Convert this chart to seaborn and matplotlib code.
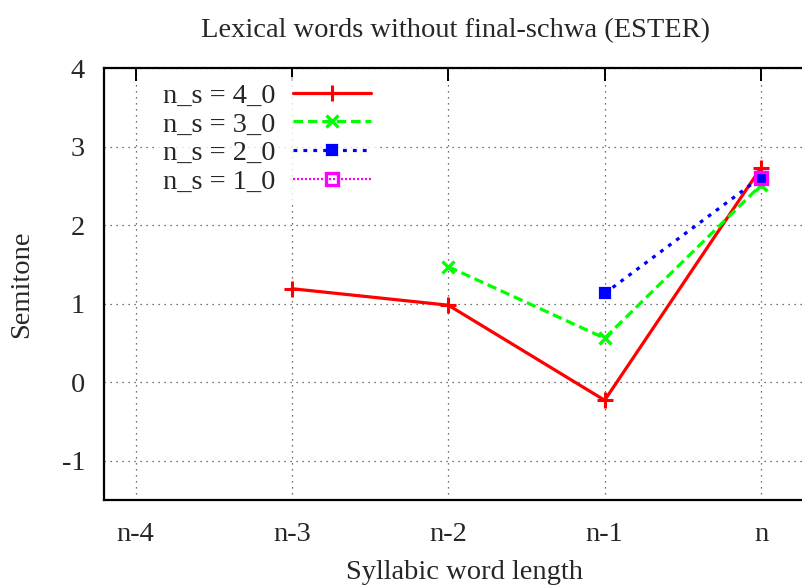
import numpy as np
import pandas as pd
import matplotlib
matplotlib.use("Agg")
import matplotlib.pyplot as plt
import seaborn as sns

# Syllable positions along the word
categories = ["n-4", "n-3", "n-2", "n-1", "n"]

# Mean pitch (semitones) per syllable position, one series per word length
labels = ["n_s = 4_0", "n_s = 3_0", "n_s = 2_0", "n_s = 1_0"]
pos_4_0 = ["n-3", "n-2", "n-1", "n"]
val_4_0 = [1.19, 0.98, -0.23, 2.73]
pos_3_0 = ["n-2", "n-1", "n"]
val_3_0 = [1.47, 0.56, 2.51]
pos_2_0 = ["n-1", "n"]
val_2_0 = [1.13, 2.61]
pos_1_0 = ["n"]
val_1_0 = [2.60]

yticks = [-1, 0, 1, 2, 3, 4]

FS = 20.5

sns.set_theme(style="white")
plt.rcParams["font.family"] = ["Liberation Serif", "DejaVu Serif"]

fig = plt.figure(figsize=(8.03, 5.85), dpi=100)
ax = fig.add_axes([104.5 / 803, 85 / 585, 719 / 803, 432 / 585])

styles = [
    dict(color="#ff0000", linestyle="-", marker="+", markersize=11, mew=2.2, lw=2.3),
    dict(color="#00ff00", linestyle=(0, (3.0, 1.5)), marker="x", markersize=9, mew=2.4, lw=2.3),
    dict(color="#0000ff", linestyle=(0, (1.2, 1.9)), marker="s", markersize=7, mew=1.6, lw=2.3),
    dict(color="#ff00ff", linestyle=(0, (0.9, 0.9)), marker="s", markersize=9, mew=2.4, lw=1.6,
         markerfacecolor="none"),
]

series = [(pos_4_0, val_4_0), (pos_3_0, val_3_0), (pos_2_0, val_2_0), (pos_1_0, val_1_0)]
for lab, (pos, vals), st in zip(labels, series, styles):
    df = pd.DataFrame({"x": [categories.index(p) for p in pos], "y": vals})
    st = dict(st)
    mfc = st.pop("markerfacecolor", st["color"])
    sns.lineplot(data=df, x="x", y="y", ax=ax, label=lab, color=st["color"],
                 linestyle=st["linestyle"], lw=st["lw"], marker=st["marker"],
                 markersize=st["markersize"], markeredgewidth=st["mew"],
                 markeredgecolor=st["color"], markerfacecolor=mfc, zorder=3)

ax.set_xlim(-0.2, 4.4)
ax.set_ylim(-1.5, 4)
ax.set_xticks(range(len(categories)))
ax.set_xticklabels(categories)
ax.set_yticks(yticks)
ax.set_yticklabels([str(t) for t in yticks])

ax.grid(True, color="#444444", linestyle=(0, (1.0, 3.8)), lw=0.9)
for side in ["left", "bottom", "top", "right"]:
    ax.spines[side].set_color("black")
    ax.spines[side].set_linewidth(1.6)

ax.tick_params(axis="both", which="major", direction="in", length=9, width=1.4,
               labelsize=FS, top=True, right=True, color="black")
ax.tick_params(axis="x", pad=16)
ax.tick_params(axis="y", pad=14)

ax.set_xlabel("Syllabic word length", fontsize=FS, labelpad=9)
ax.set_ylabel("Semitone", fontsize=FS, labelpad=20)
ax.set_title("Lexical words without final-schwa (ESTER)", fontsize=FS, pad=22, x=0.4875)

leg = ax.legend(loc="upper left", bbox_to_anchor=(0.054, 1.012), frameon=True,
                markerfirst=False, fontsize=FS, handlelength=2.74, handletextpad=0.6,
                labelspacing=0.1, borderpad=0.2, fancybox=False)
leg.get_frame().set_facecolor("white")
leg.get_frame().set_edgecolor("none")
leg.set_zorder(2)

fig.savefig("out.png", dpi=100)
